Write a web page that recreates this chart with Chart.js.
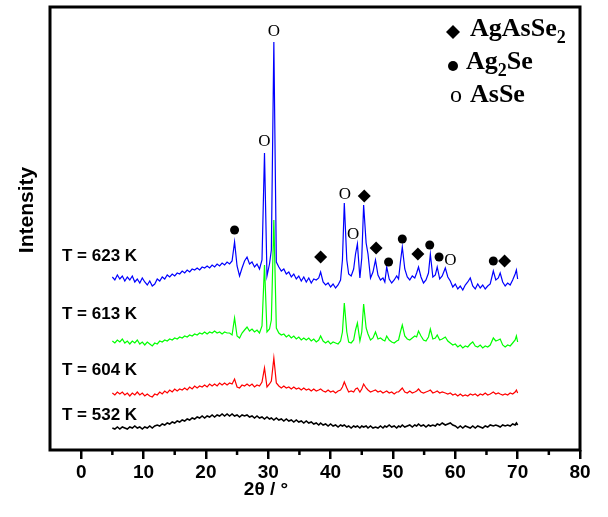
<!DOCTYPE html>
<html>
<head>
<meta charset="utf-8">
<script src="https://cdn.jsdelivr.net/npm/chart.js@4.4.1/dist/chart.umd.min.js"></script>
<style>
  body { margin: 0; background: #fff; }
  #xrd { display: block; }
</style>
</head>
<body>
<canvas id="xrd" width="608" height="517"></canvas>
<script>
// 2theta positions shared by the four patterns
var angles = [
  5, 5.4, 5.8, 6.2, 6.6, 7, 7.4, 7.8, 8.2, 8.6,
  9, 9.4, 9.8, 10.2, 10.6, 11, 11.4, 11.8, 12.2, 12.6,
  13, 13.4, 13.8, 14.2, 14.6, 15, 15.4, 15.8, 16.2, 16.6,
  17, 17.4, 17.8, 18.2, 18.6, 19, 19.4, 19.8, 20.2, 20.6,
  21, 21.4, 21.8, 22.2, 22.6, 23, 23.4, 23.8, 24.2, 24.6,
  25, 25.4, 25.8, 26.2, 26.6, 27, 27.4, 27.8, 28.2, 28.6,
  29, 29.4, 29.8, 30.2, 30.5, 30.9, 31.3, 31.7, 32.1, 32.5,
  32.9, 33.3, 33.7, 34.1, 34.5, 34.9, 35.3, 35.7, 36.1, 36.5,
  36.9, 37.3, 37.7, 38.1, 38.4, 38.8, 39.2, 39.6, 40, 40.4,
  40.8, 41.2, 41.6, 41.9, 42.2, 42.6, 42.9, 43.3, 43.7, 44.0,
  44.3, 44.7, 45.0, 45.3, 45.7, 46.0, 46.4, 46.8, 47.2, 47.6,
  48.0, 48.4, 48.7, 49.0, 49.4, 49.8, 50.2, 50.6, 50.9, 51.2,
  51.5, 51.9, 52.3, 52.7, 53.1, 53.5, 53.8, 54.1, 54.5, 54.9,
  55.3, 55.7, 56.0, 56.4, 56.8, 57.1, 57.5, 57.9, 58.4, 58.8,
  59.2, 59.6, 60.0, 60.4, 60.8, 61.2, 61.6, 62.0, 62.4, 62.8,
  63.2, 63.6, 64.0, 64.4, 64.8, 65.2, 65.6, 66.1, 66.5, 66.9,
  67.2, 67.6, 68.0, 68.4, 68.8, 69.2, 69.6, 69.8, 70.0
];

// intensities (arbitrary units, curves already stacked)
var i623 = [
  173, 170, 175, 171, 174, 169, 173, 170, 174, 168,
  171, 167, 172, 168, 165, 169, 164, 166, 171, 169,
  173, 171, 175, 173, 176, 174, 177, 176, 179, 177,
  180, 178, 181, 180, 182, 180, 183, 182, 184, 182,
  185, 183, 186, 184, 187, 185, 188, 186, 189, 208,
  184, 174, 182, 189, 193, 186, 188, 183, 186, 181,
  190, 297, 174, 186, 200, 408, 188, 183, 179, 181,
  176, 178, 173, 176, 171, 174, 169, 173, 168, 172,
  167, 171, 170, 172, 178, 168, 165, 167, 163, 166,
  162, 165, 170, 190, 247, 190, 176, 174, 181, 196,
  206, 172, 192, 245, 207, 196, 172, 178, 190, 175,
  170, 172, 168, 183, 171, 167, 170, 174, 171, 188,
  203, 181, 173, 170, 174, 172, 177, 183, 173, 167,
  170, 177, 196, 173, 175, 183, 171, 174, 182, 173,
  169, 163, 166, 161, 164, 160, 165, 168, 172, 164,
  161, 166, 162, 165, 161, 164, 166, 179, 170, 172,
  177, 168, 164, 167, 165, 170, 176, 180, 171
];
var i613 = [
  109, 107, 110, 108, 111, 107, 109, 106, 109, 107,
  110, 106, 108, 105, 108, 106, 104, 107, 106, 109,
  108, 110, 109, 111, 110, 112, 111, 113, 112, 114,
  113, 115, 114, 116, 115, 117, 116, 118, 116, 118,
  117, 119, 117, 118, 116, 118, 117, 117, 115, 132,
  114, 112, 117, 120, 123, 119, 121, 118, 120, 117,
  124, 185, 118, 121, 130, 230, 122, 117, 115, 116,
  113, 115, 112, 114, 111, 113, 110, 112, 110, 112,
  109, 111, 108, 110, 114, 109, 107, 109, 106, 108,
  107, 106, 109, 118, 147, 118, 108, 107, 110, 120,
  127, 109, 118, 146, 122, 116, 110, 112, 118, 111,
  112, 110, 109, 114, 110, 108, 107, 109, 110, 118,
  125, 114, 111, 110, 112, 114, 113, 119, 114, 110,
  109, 113, 121, 111, 112, 115, 110, 111, 113, 109,
  107, 105, 106, 103, 105, 102, 104, 103, 106, 108,
  104, 103, 105, 102, 104, 103, 105, 112, 109, 110,
  111, 105, 103, 105, 104, 107, 110, 114, 108
];
var i604 = [
  57, 55, 58, 56, 58, 55, 57, 54, 57, 55,
  58, 55, 57, 54, 56, 54, 53, 56, 55, 58,
  56, 59, 57, 60, 58, 61, 59, 61, 60, 62,
  60, 63, 61, 64, 62, 64, 63, 65, 63, 66,
  64, 66, 64, 67, 65, 67, 65, 67, 66, 71,
  63, 62, 65, 64, 66, 64, 66, 63, 65, 64,
  68, 82, 63, 66, 69, 92, 67, 64, 62, 64,
  62, 63, 61, 63, 61, 62, 60, 62, 60, 61,
  59, 61, 59, 60, 61, 59, 58, 60, 58, 59,
  57, 59, 60, 63, 68, 62, 58, 59, 58, 61,
  62, 58, 61, 66, 62, 60, 58, 59, 60, 58,
  59, 57, 58, 59, 57, 58, 56, 58, 58, 60,
  62, 58, 57, 59, 57, 58, 59, 61, 58, 57,
  58, 59, 60, 57, 58, 59, 57, 58, 57, 56,
  57, 55, 56, 54, 56, 54, 55, 54, 56, 55,
  56, 54, 56, 55, 57, 55, 56, 58, 56, 57,
  56, 55, 56, 55, 57, 56, 58, 60, 57
];
var i532 = [
  22, 21, 23, 21, 23, 22, 21, 23, 22, 24,
  22, 23, 21, 23, 22, 24, 22, 24, 25, 24,
  26, 25, 27, 26, 28, 27, 29, 28, 30, 29,
  31, 30, 32, 31, 33, 32, 34, 32, 34, 33,
  35, 33, 35, 34, 36, 34, 36, 34, 36, 34,
  35, 33, 35, 34, 35, 33, 34, 32, 34, 32,
  33, 31, 33, 31, 32, 30, 32, 30, 31, 29,
  31, 29, 30, 28, 30, 28, 29, 27, 29, 27,
  28, 26, 27, 25, 27, 25, 26, 24, 26, 24,
  25, 23, 25, 24, 25, 23, 24, 22, 24, 23,
  24, 22, 24, 23, 24, 22, 24, 22, 23, 22,
  24, 22, 24, 23, 25, 23, 24, 22, 24, 23,
  25, 23, 24, 25, 23, 25, 24, 26, 24, 25,
  23, 25, 24, 25, 24, 26, 25, 27, 25, 26,
  27, 25, 24, 22, 24, 22, 24, 23, 22, 24,
  22, 24, 23, 22, 24, 23, 25, 24, 25, 24,
  23, 25, 24, 25, 24, 26, 25, 27, 25
];

// phase markers over the 623 K pattern
var agAsSe2Angles = [38.4, 45.4, 47.3, 54.0, 67.9];
var agAsSe2Heights = [193, 254, 202, 196, 189];
var ag2SeAngles = [24.6, 49.3, 51.5, 55.9, 57.4, 66.1];
var ag2SeHeights = [220, 188, 211, 205, 193, 189];
var asSeAngles = [29.4, 30.9, 42.3, 43.6, 59.2];
var asSeHeights = [308, 418, 255, 215, 189];

var sampleLabels = ['T = 623 K', 'T = 613 K', 'T = 604 K', 'T = 532 K'];
var xTicks = [0, 10, 20, 30, 40, 50, 60, 70, 80];

function pts(xs, ys) {
    return xs.map(function (v, i) { return { x: v, y: ys[i] }; });
}

function trace(data, colour, width) {
    return {
        data: pts(angles, data),
        borderColor: colour,
        borderWidth: width,
        pointRadius: 0,
        tension: 0,
        fill: false
    };
}

function marks(xs, ys, style, r) {
    return {
        data: pts(xs, ys),
        showLine: false,
        pointStyle: style,
        pointRadius: r,
        backgroundColor: '#000',
        borderColor: '#000',
        borderWidth: 0
    };
}

// text with subscripts, parts = [[text, isSub], ...]
function richText(ctx, parts, x, y, size) {
    parts.forEach(function (p) {
        ctx.font = 'bold ' + (p[1] ? Math.round(size * 0.68) : size) + 'px "Liberation Serif", "Times New Roman", serif';
        ctx.fillText(p[0], x, p[1] ? y + size * 0.28 : y);
        x += ctx.measureText(p[0]).width;
    });
}

var overlay = {
    id: 'overlay',
    afterDraw: function (chart) {
        var ctx = chart.ctx, a = chart.chartArea;
        var xs = chart.scales.x, ys = chart.scales.y;
        ctx.save();
        ctx.fillStyle = '#000';
        ctx.strokeStyle = '#000';

        // frame
        ctx.lineWidth = 3;
        ctx.strokeRect(a.left, a.top, a.right - a.left, a.bottom - a.top);

        // minor ticks
        ctx.lineWidth = 2.5;
        for (var v = 5; v < 80; v += 10) {
            var px = xs.getPixelForValue(v);
            ctx.beginPath();
            ctx.moveTo(px, a.bottom);
            ctx.lineTo(px, a.bottom + 5);
            ctx.stroke();
        }

        // AsSe "O" marks
        ctx.font = '17px "Liberation Serif", "Times New Roman", serif';
        ctx.textAlign = 'center';
        ctx.textBaseline = 'middle';
        asSeAngles.forEach(function (t, i) {
            ctx.fillText('O', xs.getPixelForValue(t), ys.getPixelForValue(asSeHeights[i]));
        });

        // sample labels
        ctx.font = 'bold 17px "Liberation Sans", Arial, sans-serif';
        ctx.textAlign = 'left';
        var labelY = [256, 314, 370, 415];
        sampleLabels.forEach(function (s, i) {
            ctx.fillText(s, 62, labelY[i]);
        });

        // axis titles
        ctx.font = 'bold 19px "Liberation Sans", Arial, sans-serif';
        ctx.textAlign = 'center';
        ctx.fillText('2\u03b8 / \u00b0', 266, 490);
        ctx.save();
        ctx.translate(27, 210);
        ctx.rotate(-Math.PI / 2);
        ctx.font = 'bold 21px "Liberation Sans", Arial, sans-serif';
        ctx.fillText('Intensity', 0, 0);
        ctx.restore();

        // legend
        ctx.textAlign = 'left';
        ctx.textBaseline = 'alphabetic';
        ctx.beginPath();
        ctx.moveTo(453, 25); ctx.lineTo(460, 32); ctx.lineTo(453, 39); ctx.lineTo(446, 32);
        ctx.closePath();
        ctx.fill();
        richText(ctx, [['AgAsSe', false], ['2', true]], 470, 36, 26);
        ctx.beginPath();
        ctx.arc(453, 66, 5, 0, Math.PI * 2);
        ctx.fill();
        richText(ctx, [['Ag', false], ['2', true], ['Se', false]], 466, 69, 26);
        ctx.font = '24px "Liberation Serif", "Times New Roman", serif';
        ctx.fillText('o', 450, 102);
        richText(ctx, [['AsSe', false]], 470, 102, 26);

        ctx.restore();
    }
};

var chart = new Chart(document.getElementById('xrd').getContext('2d'), {
    type: 'line',
    data: {
        datasets: [
            marks(agAsSe2Angles, agAsSe2Heights, 'rectRot', 6.5),
            marks(ag2SeAngles, ag2SeHeights, 'circle', 4.5),
            trace(i623, '#0000ff', 1.2),
            trace(i613, '#00ff00', 1.2),
            trace(i604, '#ff0000', 1.2),
            trace(i532, '#000000', 1.6)
        ]
    },
    options: {
        responsive: false,
        animation: false,
        layout: { padding: { left: 50, right: 28, top: 7, bottom: 0 } },
        plugins: { legend: { display: false }, tooltip: { enabled: false } },
        scales: {
            x: {
                type: 'linear',
                min: -5,
                max: 80,
                afterFit: function (s) { s.height = 67; },
                afterBuildTicks: function (s) {
                    s.ticks = xTicks.map(function (v) { return { value: v }; });
                },
                border: { display: false },
                grid: { drawOnChartArea: false, tickLength: 9, lineWidth: 2.5, color: '#000' },
                ticks: {
                    autoSkip: false,
                    maxRotation: 0,
                    padding: 2,
                    color: '#000',
                    font: { family: '"Liberation Sans", Arial, sans-serif', size: 19, weight: 'bold' }
                }
            },
            y: { display: false, min: 0, max: 443 }
        }
    },
    plugins: [overlay]
});
</script>
</body>
</html>
